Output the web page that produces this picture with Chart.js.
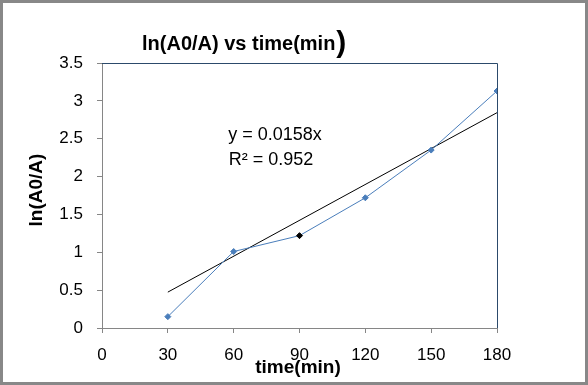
<!DOCTYPE html>
<html>
<head>
<meta charset="utf-8">
<script src="https://cdn.jsdelivr.net/npm/chart.js"></script>
<style>
  html, body { margin: 0; padding: 0; background: #fff; }
  canvas { display: block; }
</style>
</head>
<body>
<canvas id="chart" width="588" height="385"></canvas>
<script>
// datos
const tiempos = [30, 60, 90, 120, 150, 180];
const lnA0A = [0.15, 1.01, 1.22, 1.72, 2.35, 3.13];
// línea de tendencia (extremos)
const trendX = [30, 180];
const trendY = [0.474, 2.844];
const ecuacion = 'y = 0.0158x';
const r2 = 'R² = 0.952';

const FONT = '"Liberation Sans", Arial, sans-serif';
const azul = '#4a7ebb';

// colores de los puntos: el de 90 min va en negro
const pointColors = tiempos.map(t => (t === 90 ? '#000000' : azul));

// textos, marco y bordes dibujados a mano
const decorPlugin = {
  id: 'decor',
  beforeDraw(chart) {
    const c = chart.ctx;
    c.save();
    c.fillStyle = '#fff';
    c.fillRect(0, 0, chart.width, chart.height);
    c.restore();
  },
  afterDraw(chart) {
    const c = chart.ctx;
    const a = chart.chartArea;
    c.save();
    // borde del área de trazado (arriba y derecha)
    c.strokeStyle = '#2c4a6b';
    c.lineWidth = 1;
    c.beginPath();
    c.moveTo(a.left, a.top + 0.5);
    c.lineTo(a.right + 0.5, a.top + 0.5);
    c.lineTo(a.right + 0.5, a.bottom);
    c.stroke();

    // marco exterior
    c.strokeStyle = '#888888';
    c.lineWidth = 3;
    c.strokeRect(1.5, 1.5, chart.width - 3, chart.height - 3);

    // título
    c.fillStyle = '#000';
    c.textBaseline = 'alphabetic';
    c.textAlign = 'left';
    c.font = 'bold 20px ' + FONT;
    const t1 = 'ln(A0/A) vs time(min';
    c.fillText(t1, 142, 50);
    const w1 = c.measureText(t1).width;
    c.font = 'bold 30px ' + FONT;
    c.fillText(')', 142 + w1 + 1, 52);

    // títulos de ejes
    c.font = 'bold 19px ' + FONT;
    c.textAlign = 'center';
    c.textBaseline = 'middle';
    c.fillText('time(min)', 298, 368);
    c.save();
    c.translate(37, 190);
    c.rotate(-Math.PI / 2);
    c.fillText('ln(A0/A)', 0, 0);
    c.restore();

    // ecuación de la tendencia
    c.font = '18px ' + FONT;
    c.fillText(ecuacion, 275, 135);
    c.fillText(r2, 271, 160);
    c.restore();
  }
};

new Chart(document.getElementById('chart').getContext('2d'), {
  type: 'scatter',
  data: {
    datasets: [
      {
        label: 'trend',
        data: trendX.map((x, i) => ({ x, y: trendY[i] })),
        showLine: true,
        borderColor: '#000',
        borderWidth: 1,
        pointRadius: 0,
        order: 2
      },
      {
        label: 'ln(A0/A)',
        data: tiempos.map((x, i) => ({ x, y: lnA0A[i] })),
        showLine: true,
        borderColor: azul,
        borderWidth: 1,
        pointStyle: 'rectRot',
        pointRadius: 3,
        pointBackgroundColor: pointColors,
        pointBorderColor: pointColors,
        order: 1
      }
    ]
  },
  options: {
    responsive: false,
    animation: false,
    layout: { padding: { left: 0, right: 91, top: 63, bottom: 0 } },
    plugins: {
      legend: { display: false },
      title: { display: false },
      tooltip: { enabled: false }
    },
    scales: {
      x: {
        type: 'linear',
        min: 0,
        max: 180,
        afterFit(s) { s.height = 57; },
        ticks: {
          stepSize: 30,
          color: '#000',
          font: { family: FONT, size: 17 },
          padding: 12,
          maxRotation: 0
        },
        grid: { drawOnChartArea: false, drawTicks: true, tickLength: 5, color: '#868686' },
        border: { color: '#868686', width: 1 }
      },
      y: {
        min: 0,
        max: 3.5,
        afterFit(s) { s.width = 102; },
        ticks: {
          stepSize: 0.5,
          color: '#000',
          font: { family: FONT, size: 17 },
          padding: 14,
          callback: v => String(v)
        },
        grid: { drawOnChartArea: false, drawTicks: true, tickLength: 5, color: '#868686' },
        border: { color: '#868686', width: 1 }
      }
    }
  },
  plugins: [decorPlugin]
});
</script>
</body>
</html>
